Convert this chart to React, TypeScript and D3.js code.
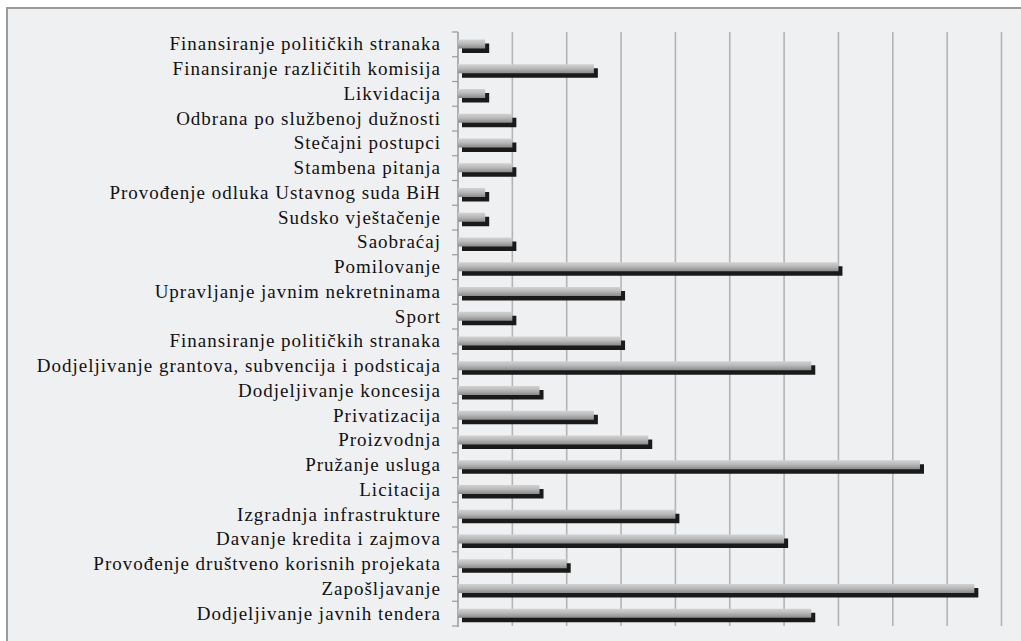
import React from "react";
import * as d3 from "d3";

const categories: string[] = [
  "Finansiranje političkih stranaka",
  "Finansiranje različitih komisija",
  "Likvidacija",
  "Odbrana po službenoj dužnosti",
  "Stečajni postupci",
  "Stambena pitanja",
  "Provođenje odluka Ustavnog suda BiH",
  "Sudsko vještačenje",
  "Saobraćaj",
  "Pomilovanje",
  "Upravljanje javnim nekretninama",
  "Sport",
  "Finansiranje političkih stranaka ",
  "Dodjeljivanje grantova, subvencija i podsticaja",
  "Dodjeljivanje koncesija",
  "Privatizacija",
  "Proizvodnja",
  "Pružanje usluga",
  "Licitacija",
  "Izgradnja infrastrukture",
  "Davanje kredita i zajmova",
  "Provođenje društveno korisnih projekata",
  "Zapošljavanje",
  "Dodjeljivanje javnih tendera",
];

const values: number[] = [
  0.5, 2.5, 0.5, 1.0, 1.0, 1.0, 0.5, 0.5, 1.0, 7.0, 3.0, 1.0, 3.0, 6.5,
  1.5, 2.5, 3.5, 8.5, 1.5, 4.0, 6.0, 2.0, 9.5, 6.5,
];

const gridTicks: number[] = [1, 2, 3, 4, 5, 6, 7, 8, 9, 10];

export default function App() {
  const W = 1021;
  const H = 641;
  const x = d3.scaleLinear().domain([0, 10]).range([458, 1001.5]);
  const y = d3
    .scaleBand<number>()
    .domain(d3.range(categories.length))
    .range([32, 626])
    .padding(0);
  const bw = y.bandwidth();

  return (
    <svg
      width={W}
      height={H}
      style={{ position: "absolute", left: 0, top: 0, background: "#ffffff" }}
    >
      <defs>
        <linearGradient id="barGrad" x1="0" y1="0" x2="0" y2="1">
          <stop offset="0%" stopColor="#d2d2d2" />
          <stop offset="45%" stopColor="#bababa" />
          <stop offset="100%" stopColor="#8a8a8a" />
        </linearGradient>
      </defs>
      <rect x={7} y={8} width={W + 10} height={H + 10} fill="#eff0f2" stroke="#9b9b9b" strokeWidth={2} />

      {gridTicks.map((t) => (
        <line
          key={"g" + t}
          x1={x(t)}
          x2={x(t)}
          y1={32}
          y2={626}
          stroke="#b4b4b4"
          strokeWidth={1.6}
        />
      ))}

      <line x1={x(0)} x2={x(0)} y1={32} y2={627} stroke="#9a9a9a" strokeWidth={1.5} />
      {d3.range(categories.length + 1).map((i) => {
        const yy = 32 + i * bw;
        return (
          <line key={"t" + i} x1={x(0) - 6} x2={x(0)} y1={yy} y2={yy} stroke="#9a9a9a" strokeWidth={1.2} />
        );
      })}

      {values.map((v, i) => {
        const top = y(i) as number;
        return (
          <g key={"b" + i}>
            <rect
              x={x(0) + 4}
              y={top + 11.5}
              width={x(v) - x(0)}
              height={9.5}
              fill="#1a1a1a"
            />
            <rect
              x={x(0)}
              y={top + 7.5}
              width={x(v) - x(0)}
              height={9}
              fill="url(#barGrad)"
            />
          </g>
        );
      })}

      {categories.map((c, i) => {
        const top = y(i) as number;
        return (
          <text
            key={"l" + i}
            x={441}
            y={top + bw / 2 + 6}
            textAnchor="end"
            fontFamily="'Liberation Serif', 'Times New Roman', serif"
            fontSize={19}
            letterSpacing={1}
            fill="#111111"
          >
            {c.trim()}
          </text>
        );
      })}
    </svg>
  );
}
